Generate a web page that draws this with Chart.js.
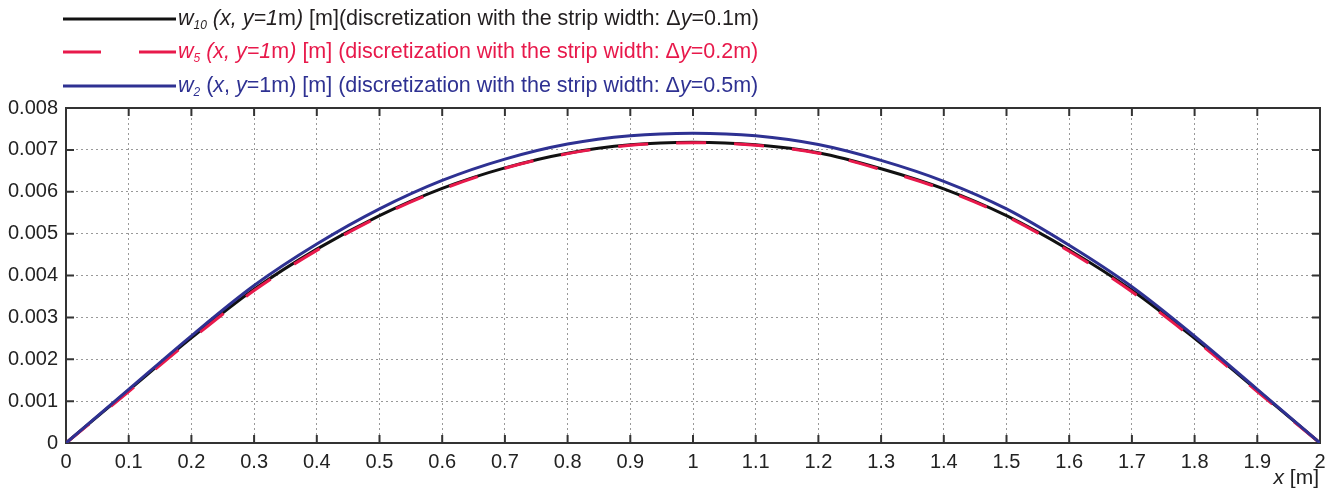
<!DOCTYPE html>
<html>
<head>
<meta charset="utf-8">
<script src="https://cdn.jsdelivr.net/npm/chart.js@4"></script>
<style>
  html, body { margin: 0; padding: 0; background: #fff; }
  #wrap { position: relative; width: 1328px; height: 488px; font-family: "Liberation Sans", Arial, sans-serif; }
  canvas { position: absolute; left: 0; top: 0; }
  .leg { position: absolute; left: 63px; height: 26px; display: flex; align-items: center; font-size: 21.5px; white-space: nowrap; }
  .leg svg { margin-right: 2px; }
  .leg sub { font-size: 12px; vertical-align: -4px; }
  #xtitle { position: absolute; right: 9px; top: 466px; font-size: 21px; line-height: 22px; color: #222; }
</style>
</head>
<body>
<div id="wrap">
  <canvas id="chart" width="1328" height="488"></canvas>
  <div class="leg" style="top:6px;color:#231f20">
    <svg width="113" height="6"><line x1="0" y1="3" x2="113" y2="3" stroke="#111" stroke-width="3"/></svg>
    <span><i>w<sub>10</sub> (x, y=1</i>m<i>)</i> [m](discretization with the strip width: Δ<i>y</i>=0.1m)</span>
  </div>
  <div class="leg" style="top:39px;color:#e8194b">
    <svg width="113" height="6"><line x1="0" y1="3" x2="113" y2="3" stroke="#e8194b" stroke-width="3" stroke-dasharray="38 38"/></svg>
    <span><i>w<sub>5</sub> (x, y=1</i>m<i>)</i> [m] (discretization with the strip width: Δ<i>y</i>=0.2m)</span>
  </div>
  <div class="leg" style="top:73px;color:#2e3192">
    <svg width="113" height="6"><line x1="0" y1="3" x2="113" y2="3" stroke="#2e3192" stroke-width="3"/></svg>
    <span><i>w<sub>2</sub></i> (<i>x</i>, <i>y</i>=1m) [m] (discretization with the strip width: Δ<i>y</i>=0.5m)</span>
  </div>
  <div id="xtitle"><i>x</i> [m]</div>
</div>
<script>
const xValues = [0, 0.1, 0.2, 0.3, 0.4, 0.5, 0.6, 0.7, 0.8, 0.9, 1.0, 1.1, 1.2, 1.3, 1.4, 1.5, 1.6, 1.7, 1.8, 1.9, 2.0];
// w10, strip width 0.1m
const w10 = [0, 0.00126, 0.00251, 0.00367, 0.00463, 0.00543, 0.00608, 0.00657, 0.00692, 0.00712, 0.00718, 0.00712, 0.00693, 0.00655, 0.00607, 0.00543, 0.00461, 0.00365, 0.00250, 0.00126, 0];
// w5, strip width 0.2m
const w5 = [0, 0.00123, 0.00248, 0.00364, 0.00460, 0.00541, 0.00606, 0.00656, 0.00691, 0.00711, 0.00717, 0.00711, 0.00692, 0.00653, 0.00605, 0.00541, 0.00458, 0.00361, 0.00247, 0.00123, 0];
// w2, strip width 0.5m
const w2 = [0, 0.00128, 0.00256, 0.00376, 0.00475, 0.00559, 0.00627, 0.00678, 0.00714, 0.00734, 0.00740, 0.00734, 0.00713, 0.00675, 0.00625, 0.00559, 0.00472, 0.00373, 0.00255, 0.00128, 0];

const pts = arr => arr.map((v, i) => ({ x: xValues[i], y: v }));

// inward tick marks + box frame, like the original plot
const frame = {
  id: 'frame',
  beforeDatasetsDraw(c) {
    const { ctx, chartArea: a, scales: { x, y } } = c;
    ctx.save();
    ctx.strokeStyle = '#333';
    ctx.lineWidth = 2;
    x.ticks.forEach((t, i) => {
      const px = x.getPixelForTick(i);
      ctx.beginPath();
      ctx.moveTo(px, a.bottom); ctx.lineTo(px, a.bottom - 8);
      ctx.moveTo(px, a.top); ctx.lineTo(px, a.top + 8);
      ctx.stroke();
    });
    y.ticks.forEach((t, i) => {
      const py = y.getPixelForTick(i);
      ctx.beginPath();
      ctx.moveTo(a.left, py); ctx.lineTo(a.left + 8, py);
      ctx.moveTo(a.right, py); ctx.lineTo(a.right - 8, py);
      ctx.stroke();
    });
    ctx.strokeRect(a.left, a.top, a.right - a.left, a.bottom - a.top);
    ctx.restore();
  }
};

new Chart(document.getElementById('chart'), {
  type: 'line',
  data: {
    datasets: [
      { data: pts(w10), borderColor: '#111', borderWidth: 3, pointRadius: 0, cubicInterpolationMode: 'monotone' },
      { data: pts(w5), borderColor: '#e8194b', borderWidth: 3, borderDash: [30, 28], pointRadius: 0, cubicInterpolationMode: 'monotone' },
      { data: pts(w2), borderColor: '#2e3192', borderWidth: 3, pointRadius: 0, cubicInterpolationMode: 'monotone' }
    ].reverse()
  },
  options: {
    responsive: false,
    animation: false,
    events: [],
    layout: { padding: { top: 108, right: 8, left: 0, bottom: 0 } },
    plugins: { legend: { display: false }, tooltip: { enabled: false } },
    scales: {
      x: {
        type: 'linear', min: 0, max: 2,
        afterFit: s => { s.height = 45; s.paddingRight = 0; s.paddingLeft = 0; },
        ticks: {
          stepSize: 0.1, color: '#222', padding: 7,
          font: { family: 'Liberation Sans', size: 20 },
          callback: v => String(Math.round(v * 10) / 10),
          maxRotation: 0, autoSkip: false
        },
        grid: { color: '#999', lineWidth: 1, drawTicks: false },
        border: { display: false, dash: [2, 3] }
      },
      y: {
        min: 0, max: 0.008,
        afterFit: s => { s.width = 66; },
        ticks: {
          stepSize: 0.001, color: '#222', padding: 8,
          font: { family: 'Liberation Sans', size: 20 },
          callback: v => v === 0 ? '0' : (Math.round(v * 1000) / 1000).toFixed(3)
        },
        grid: { color: '#999', lineWidth: 1, drawTicks: false },
        border: { display: false, dash: [2, 3] }
      }
    }
  },
  plugins: [frame]
});
</script>
</body>
</html>
